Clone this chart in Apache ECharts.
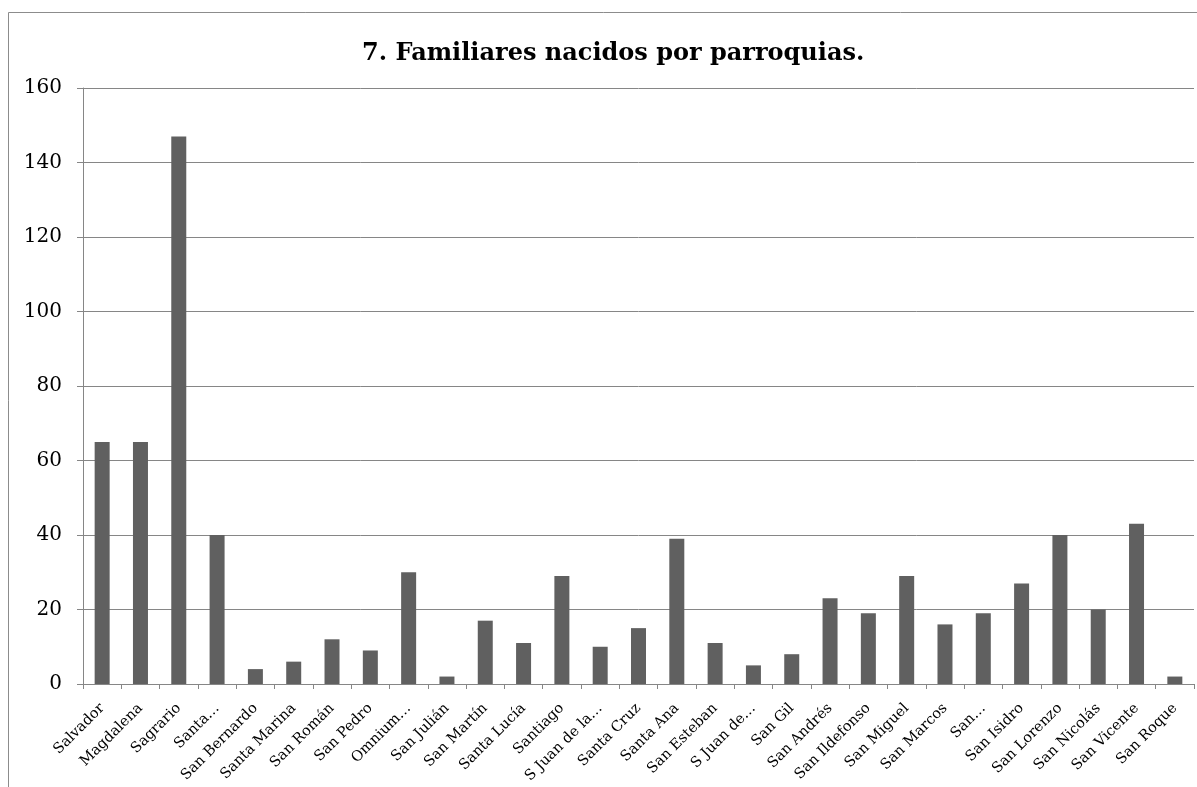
<!DOCTYPE html>
<html>
<head>
<meta charset="utf-8">
<script src="https://cdn.jsdelivr.net/npm/echarts@6/dist/echarts.min.js"></script>
<style>
  html, body { margin: 0; padding: 0; background: #fff; }
  #chart { width: 1197px; height: 787px; }
</style>
</head>
<body>
<div id="chart"></div>
<script>
// Parroquias (etiquetas tal como aparecen en el eje)
const parroquias = [
  'Salvador', 'Magdalena', 'Sagrario', 'Santa…', 'San Bernardo', 'Santa Marina',
  'San Román', 'San Pedro', 'Omnium…', 'San Julián', 'San Martín', 'Santa Lucía',
  'Santiago', 'S Juan de la…', 'Santa Cruz', 'Santa Ana', 'San Esteban', 'S Juan de…',
  'San Gil', 'San Andrés', 'San Ildefonso', 'San Miguel', 'San Marcos', 'San…',
  'San Isidro', 'San Lorenzo', 'San Nicolás', 'San Vicente', 'San Roque'
];

// Familiares nacidos en cada parroquia
const nacidos = [
  65, 65, 147, 40, 4, 6,
  12, 9, 30, 2, 17, 11,
  29, 10, 15, 39, 11, 5,
  8, 23, 19, 29, 16, 19,
  27, 40, 20, 43, 2
];

// Marcas del eje vertical
const ejeMin = 0;
const ejeMax = 160;
const ejePaso = 20;

const serif = 'DejaVu Serif';
const chart = echarts.init(document.getElementById('chart'));

chart.setOption({
  animation: false,
  backgroundColor: '#ffffff',
  title: {
    text: '7. Familiares nacidos por parroquias.',
    left: 357,
    top: 37,
    textStyle: { fontFamily: serif, fontWeight: 'bold', fontSize: 24, color: '#000' }
  },
  graphic: [{
    type: 'rect',
    shape: { x: 8.5, y: 12.5, width: 1200, height: 800 },
    style: { fill: 'none', stroke: '#8c8c8c', lineWidth: 1 },
    silent: true
  }],
  grid: { left: 83, right: 3, top: 88, bottom: 103, containLabel: false },
  xAxis: {
    type: 'category',
    data: parroquias,
    axisLine: { lineStyle: { color: '#868686', width: 1 } },
    axisTick: { show: true, alignWithLabel: false, length: 5, lineStyle: { color: '#868686' } },
    axisLabel: {
      interval: 0,
      rotate: 45,
      margin: 22,
      fontFamily: serif,
      fontSize: 14.5,
      color: '#000'
    }
  },
  yAxis: {
    type: 'value',
    min: ejeMin,
    max: ejeMax,
    interval: ejePaso,
    axisLine: { show: true, lineStyle: { color: '#868686', width: 1 } },
    axisTick: { show: true, length: 6, lineStyle: { color: '#868686' } },
    splitLine: { show: true, lineStyle: { color: '#868686', width: 1 } },
    axisLabel: { fontFamily: serif, fontSize: 20, color: '#000', margin: 21 }
  },
  series: [{
    type: 'bar',
    data: nacidos,
    barWidth: 15,
    itemStyle: { color: '#606060' }
  }]
});
</script>
</body>
</html>
